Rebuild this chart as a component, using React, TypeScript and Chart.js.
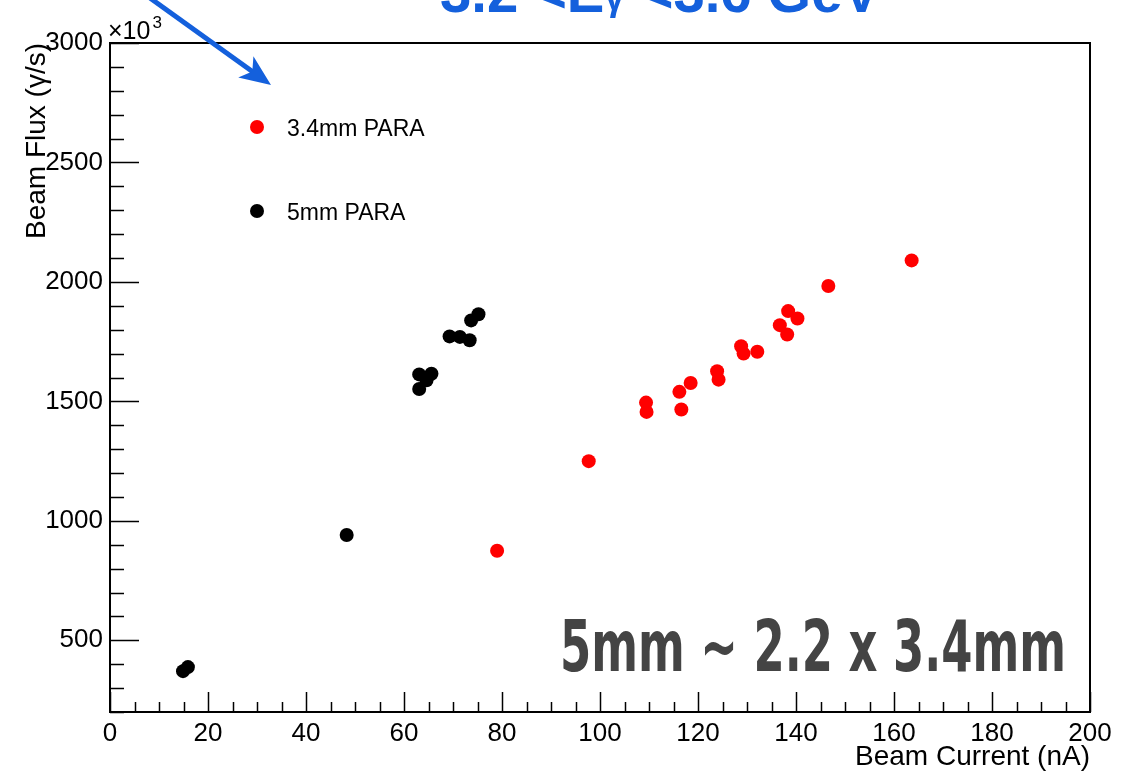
import React, { useEffect, useRef } from 'react';
import { Chart, registerables } from 'chart.js';

Chart.register(...registerables);

// ---- axis definitions ----
const X_RANGE = [0, 200];
const Y_RANGE = [200, 3000];
const X_TICKS = [0, 20, 40, 60, 80, 100, 120, 140, 160, 180, 200];
const Y_TICKS = [500, 1000, 1500, 2000, 2500, 3000];
const X_MINOR_STEP = 5;
const Y_MINOR_STEP = 100;

// ---- series ----
const SERIES_LABELS = ['3.4mm PARA', '5mm PARA'];
const SERIES_COLORS = ['#ff0000', '#000000'];

// 3.4mm PARA: beam current (nA) and beam flux (x10^3 gamma/s)
const PARA34_CURRENT = [79.0, 97.7, 109.4, 109.5, 116.2, 116.6, 118.5, 123.9, 124.2, 128.8, 129.3, 132.1, 136.7, 138.2, 138.4, 140.3, 146.6, 163.6];
const PARA34_FLUX = [875, 1250, 1495, 1456, 1540, 1466, 1577, 1626, 1591, 1731, 1700, 1708, 1819, 1780, 1878, 1847, 1983, 2090];

// 5mm PARA
const PARA5_CURRENT = [14.9, 15.9, 48.3, 63.1, 63.1, 64.6, 65.6, 69.3, 71.4, 73.4, 73.7, 75.2];
const PARA5_FLUX = [371, 388, 941, 1552, 1613, 1588, 1616, 1772, 1770, 1756, 1839, 1865];

// ---- texts ----
const X_TITLE = 'Beam Current (nA)';
const Y_TITLE = 'Beam Flux (γ/s)';
const EXP_LABEL = '×10';
const EXP_SUP = '3';
const NOTE = '5mm ~ 2.2 x 3.4mm';
const TOP_TITLE = ['3.2 <E', 'γ', ' <3.6 GeV'];

const FONT = "'Liberation Sans', Arial, Helvetica, sans-serif";
const BLUE = '#1460dc';

const rootAxesPlugin = {
  id: 'rootAxes',
  afterDatasetsDraw(chart: any) {
    const { ctx, chartArea: a, scales } = chart;
    const xs = scales.x;
    const ys = scales.y;
    ctx.save();
    ctx.strokeStyle = '#000';
    ctx.lineWidth = 1.5;
    ctx.beginPath();
    for (let v = X_RANGE[0]; v <= X_RANGE[1] + 1e-9; v += X_MINOR_STEP) {
      const px = Math.round(xs.getPixelForValue(v)) + 0.5;
      const major = X_TICKS.includes(v);
      const len = major ? 20 : 10;
      ctx.moveTo(px, a.bottom);
      ctx.lineTo(px, a.bottom - len);
    }
    for (let v = Y_RANGE[0]; v <= Y_RANGE[1] + 1e-9; v += Y_MINOR_STEP) {
      const py = Math.round(ys.getPixelForValue(v)) + 0.5;
      const major = Y_TICKS.includes(v);
      const len = major ? 29 : 14;
      ctx.moveTo(a.left, py);
      ctx.lineTo(a.left + len, py);
    }
    ctx.stroke();
    ctx.lineWidth = 2;
    ctx.strokeRect(a.left, a.top, a.right - a.left, a.bottom - a.top);
    ctx.restore();
  },
};

const annotationsPlugin = {
  id: 'annotations',
  afterDraw(chart: any) {
    const { ctx, chartArea: a } = chart;
    ctx.save();

    // exponent label
    ctx.fillStyle = '#000';
    ctx.textBaseline = 'alphabetic';
    ctx.textAlign = 'left';
    ctx.font = `25px ${FONT}`;
    ctx.fillText(EXP_LABEL, a.left - 2, 39);
    const w1 = ctx.measureText(EXP_LABEL).width;
    ctx.font = `17px ${FONT}`;
    ctx.fillText(EXP_SUP, a.left - 2 + w1 + 2, 28);

    // legend
    chart.data.datasets.forEach((ds: any, i: number) => {
      const cy = 127 + i * 84;
      ctx.beginPath();
      ctx.fillStyle = ds.backgroundColor;
      ctx.arc(257, cy, 7, 0, Math.PI * 2);
      ctx.fill();
      ctx.fillStyle = '#000';
      ctx.font = `23px ${FONT}`;
      ctx.textBaseline = 'alphabetic';
      ctx.fillText(ds.label, 287, cy + 9);
    });

    // big note
    ctx.fillStyle = '#444444';
    ctx.font = `bold 72px 'Liberation Sans Narrow', 'DejaVu Sans Condensed', ${FONT}`;
    const nw = ctx.measureText(NOTE).width;
    ctx.save();
    ctx.translate(560, 671);
    ctx.scale(506 / nw, 1);
    ctx.fillText(NOTE, 0, 0);
    ctx.restore();

    // cut-off title at top
    ctx.fillStyle = BLUE;
    ctx.font = `bold 58px ${FONT}`;
    const p0 = ctx.measureText(TOP_TITLE[0]).width;
    const p2 = ctx.measureText(TOP_TITLE[2]).width;
    ctx.font = `bold 38px ${FONT}`;
    const p1 = ctx.measureText(TOP_TITLE[1]).width;
    const total = p0 + p1 + p2;
    ctx.save();
    ctx.translate(440, 0);
    ctx.scale(440 / total, 1);
    ctx.font = `bold 58px ${FONT}`;
    ctx.fillText(TOP_TITLE[0], 0, 12);
    ctx.font = `bold 38px ${FONT}`;
    ctx.fillText(TOP_TITLE[1], p0, 10);
    ctx.font = `bold 58px ${FONT}`;
    ctx.fillText(TOP_TITLE[2], p0 + p1, 12);
    ctx.restore();

    // arrow
    const sx = 150, sy = -2, tx = 271, ty = 85;
    const dx = tx - sx, dy = ty - sy;
    const L = Math.hypot(dx, dy);
    const ux = dx / L, uy = dy / L;
    const nx = -uy, ny = ux;
    ctx.strokeStyle = BLUE;
    ctx.lineWidth = 5;
    ctx.beginPath();
    ctx.moveTo(sx, sy);
    ctx.lineTo(tx - ux * 20, ty - uy * 20);
    ctx.stroke();
    ctx.beginPath();
    ctx.moveTo(tx, ty);
    ctx.lineTo(tx - ux * 31 + nx * 13, ty - uy * 31 + ny * 13);
    ctx.lineTo(tx - ux * 23, ty - uy * 23);
    ctx.lineTo(tx - ux * 31 - nx * 13, ty - uy * 31 - ny * 13);
    ctx.closePath();
    ctx.fill();

    ctx.restore();
  },
};

export default function App() {
  const canvasRef = useRef<HTMLCanvasElement | null>(null);

  useEffect(() => {
    const canvas = canvasRef.current;
    if (!canvas) return;
    const chart = new Chart(canvas, {
      type: 'scatter',
      data: {
        datasets: [
          {
            label: SERIES_LABELS[0],
            data: PARA34_CURRENT.map((x, i) => ({ x, y: PARA34_FLUX[i] })),
            backgroundColor: SERIES_COLORS[0],
            borderWidth: 0,
            pointRadius: 7,
            pointHoverRadius: 7,
          },
          {
            label: SERIES_LABELS[1],
            data: PARA5_CURRENT.map((x, i) => ({ x, y: PARA5_FLUX[i] })),
            backgroundColor: SERIES_COLORS[1],
            borderWidth: 0,
            pointRadius: 7,
            pointHoverRadius: 7,
          },
        ],
      },
      options: {
        responsive: false,
        animation: false,
        devicePixelRatio: 1,
        events: [],
        layout: { padding: { top: 43, right: 51, left: 0, bottom: 0 } },
        plugins: {
          legend: { display: false },
          tooltip: { enabled: false },
        },
        scales: {
          x: {
            type: 'linear',
            min: X_RANGE[0],
            max: X_RANGE[1],
            afterBuildTicks: (s: any) => {
              s.ticks = X_TICKS.map((value) => ({ value }));
            },
            afterFit: (s: any) => {
              s.height = 62;
            },
            grid: { display: false, drawTicks: false },
            border: { display: false },
            ticks: {
              autoSkip: false,
              maxRotation: 0,
              padding: 6,
              color: '#000',
              font: { family: FONT, size: 26 },
              callback: (v: any) => String(v),
            },
            title: {
              display: true,
              text: X_TITLE,
              align: 'end',
              color: '#000',
              font: { family: FONT, size: 28 },
              padding: { top: 0, bottom: 0 },
            },
          },
          y: {
            type: 'linear',
            min: Y_RANGE[0],
            max: Y_RANGE[1],
            afterBuildTicks: (s: any) => {
              s.ticks = Y_TICKS.map((value) => ({ value }));
            },
            afterFit: (s: any) => {
              s.width = 110;
            },
            grid: { display: false, drawTicks: false },
            border: { display: false },
            ticks: {
              autoSkip: false,
              padding: 7,
              color: '#000',
              font: { family: FONT, size: 26 },
              callback: (v: any) => String(v),
            },
            title: {
              display: true,
              text: Y_TITLE,
              align: 'end',
              color: '#000',
              font: { family: FONT, size: 28 },
              padding: { top: 20, bottom: 0 },
            },
          },
        },
      } as any,
      plugins: [rootAxesPlugin, annotationsPlugin],
    });
    return () => chart.destroy();
  }, []);

  return (
    <div style={{ position: 'absolute', left: 0, top: 0, width: 1141, height: 774, background: '#fff' }}>
      <canvas ref={canvasRef} width={1141} height={774} style={{ display: 'block' }} />
    </div>
  );
}
